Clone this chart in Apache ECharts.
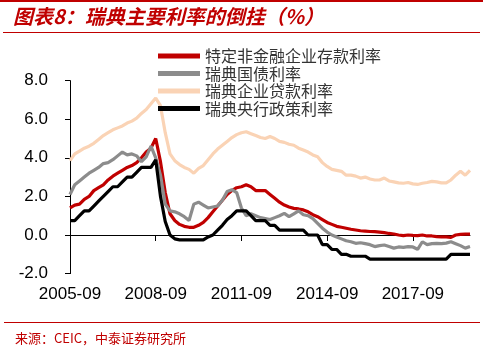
<!DOCTYPE html>
<html>
<head>
<meta charset="utf-8">
<script src="https://cdn.jsdelivr.net/npm/echarts@6/dist/echarts.min.js"></script>
<style>
  html, body { margin: 0; padding: 0; background: #fff; }
  #chart { width: 483px; height: 351px; }
</style>
</head>
<body>
<div id="chart"></div>
<script>
// 两个月一个点，从2005-09到2019-09
const months = []
for (let i = 0; i < 85; i++) {
  const m = 8 + i * 2
  const y = 2005 + Math.floor(m / 12)
  const mm = (m % 12) + 1
  months.push(y + '-' + (mm < 10 ? '0' + mm : mm))
}

const seriesNames = ['特定非金融企业存款利率', '瑞典国债利率', '瑞典企业贷款利率', '瑞典央行政策利率']

// 特定非金融企业存款利率
const depositRate = [
  1.4, 1.55, 1.6, 1.85, 2.0, 2.3, 2.45, 2.6, 2.85, 3.05,
  3.2, 3.35, 3.5, 3.6, 3.75, 4.0, 4.3, 4.5, 5.0, 3.8,
  2.2, 1.1, 0.75, 0.55, 0.45, 0.4, 0.4, 0.5, 0.65, 0.9,
  1.2, 1.5, 1.8, 2.1, 2.3, 2.45, 2.5, 2.6, 2.5, 2.3,
  2.3, 2.3, 2.1, 1.9, 1.7, 1.55, 1.45, 1.38, 1.35, 1.3,
  1.2, 1.05, 0.95, 0.8, 0.65, 0.55, 0.45, 0.4, 0.35, 0.3,
  0.26, 0.22, 0.2, 0.18, 0.17, 0.15, 0.12, 0.08, 0.05, 0.0,
  -0.03, 0.0, -0.02, -0.03, 0.0, -0.05, -0.05, -0.08, -0.1, -0.1,
  -0.12, 0.0, 0.03, 0.05, 0.05
]
// 瑞典国债利率
const bondYield = [
  2.1, 2.6, 2.8, 3.0, 3.2, 3.35, 3.5, 3.7, 3.75, 3.9,
  4.1, 4.3, 4.15, 4.2, 4.1, 3.8, 4.05, 4.6, 4.0, 3.1,
  1.6, 1.25, 1.2, 1.1, 0.95, 0.75, 1.6, 1.7, 1.55, 1.4,
  1.45, 1.5, 1.8, 2.25, 2.35, 2.2, 1.4, 1.0, 1.1, 1.0,
  0.9, 0.85, 0.8, 0.9, 1.0, 1.12, 0.95, 1.1, 1.25, 1.05,
  1.0, 0.85, 0.6, 0.35, 0.15, 0.0, -0.1, -0.2, -0.3, -0.35,
  -0.43, -0.4, -0.45, -0.5, -0.6, -0.55, -0.52, -0.6, -0.68, -0.62,
  -0.64, -0.6, -0.62, -0.74, -0.35, -0.5, -0.45, -0.43, -0.45, -0.42,
  -0.35, -0.45, -0.55, -0.68, -0.6
]
// 瑞典企业贷款利率
const loanRate = [
  3.85, 4.2, 4.35, 4.5, 4.6, 4.75, 4.95, 5.15, 5.3, 5.45,
  5.55, 5.65, 5.8, 5.9, 6.05, 6.3, 6.5, 6.8, 7.1, 6.7,
  5.3, 4.2, 3.85, 3.65, 3.5, 3.4, 3.2, 3.45, 3.6, 3.9,
  4.2, 4.45, 4.65, 4.85, 5.05, 5.2, 5.3, 5.35, 5.25, 5.15,
  5.05, 5.0, 5.1, 5.0, 4.85, 4.8, 4.7, 4.65, 4.5, 4.4,
  4.3, 4.15, 4.05, 3.75, 3.55, 3.4, 3.35, 3.3, 3.1, 3.1,
  3.05, 2.95, 3.0, 2.9, 2.85, 2.85, 2.95, 2.8, 2.75, 2.7,
  2.68, 2.72, 2.65, 2.62, 2.68, 2.72, 2.78, 2.75, 2.7, 2.7,
  2.85, 3.1, 3.3, 3.1, 3.35
]
// 瑞典央行政策利率
const policyRate = [
  0.75, 0.75, 1.0, 1.25, 1.25, 1.5, 1.75, 2.0, 2.25, 2.5,
  2.5, 2.75, 3.0, 3.0, 3.25, 3.5, 3.5, 3.5, 3.9, 2.0,
  0.7, 0.0, -0.2, -0.25, -0.25, -0.25, -0.25, -0.25, -0.25, -0.1,
  0.0, 0.25, 0.5, 0.8, 1.0, 1.25, 1.25, 1.25, 1.0, 0.75,
  0.75, 0.75, 0.5, 0.5, 0.25, 0.25, 0.25, 0.25, 0.25, 0.25,
  0.0, 0.0, 0.0, -0.5, -0.5, -0.75, -0.75, -1.0, -1.0, -1.1,
  -1.1, -1.1, -1.1, -1.25, -1.25, -1.25, -1.25, -1.25, -1.25, -1.25,
  -1.25, -1.25, -1.25, -1.25, -1.25, -1.25, -1.25, -1.25, -1.25, -1.25,
  -1.0, -1.0, -1.0, -1.0, -1.0
]
const colors = ['#C00000', '#8C8C8C', '#FAD3B5', '#000000']

const yMin = -2
const yMax = 8
const yStep = 2

const chart = echarts.init(document.getElementById('chart'))
const lineSeries = (name, data, color) => ({
  name: name,
  type: 'line',
  data: data,
  xAxisIndex: 0,
  showSymbol: false,
  symbol: 'none',
  lineStyle: { color: color, width: 3.2 },
  itemStyle: { color: color },
  animation: false
})

chart.setOption({
  animation: false,
  title: {
    text: '图表8：瑞典主要利率的倒挂（%）',
    left: 13,
    top: 6,
    padding: 0,
    textStyle: {
      color: '#C00000',
      fontStyle: 'italic',
      fontWeight: 'bold',
      fontSize: 20,
      fontFamily: 'Noto Sans CJK SC'
    }
  },
  legend: {
    orient: 'vertical',
    left: 158,
    top: 48,
    padding: 0,
    itemGap: 1.5,
    itemWidth: 42,
    itemHeight: 5,
    icon: 'rect',
    data: seriesNames,
    textStyle: { fontSize: 16, color: '#333', fontFamily: 'Noto Sans CJK SC' }
  },
  grid: { left: 70, right: 13, top: 80.6, bottom: 77.4 },
  xAxis: [
    {
      type: 'category',
      data: months,
      boundaryGap: false,
      axisLine: { onZero: true, lineStyle: { color: '#000', width: 1 } },
      axisTick: { interval: 17, length: 6, lineStyle: { color: '#000' } },
      axisLabel: { show: false },
      splitLine: { show: false }
    },
    {
      type: 'category',
      data: months,
      boundaryGap: false,
      position: 'bottom',
      axisLine: { show: false, onZero: false },
      axisTick: { show: false },
      axisLabel: {
        interval: 17,
        margin: 12,
        fontSize: 17,
        color: '#000',
        fontFamily: 'Liberation Sans'
      },
      splitLine: { show: false }
    }
  ],
  yAxis: {
    type: 'value',
    min: yMin,
    max: yMax,
    interval: yStep,
    axisLine: { show: true, lineStyle: { color: '#000', width: 1 } },
    axisTick: { show: true, length: 5, lineStyle: { color: '#000' } },
    axisLabel: {
      margin: 22,
      fontSize: 17,
      color: '#000',
      fontFamily: 'Liberation Sans',
      formatter: v => v.toFixed(1)
    },
    splitLine: { show: false }
  },
  series: [
    lineSeries(seriesNames[0], depositRate, colors[0]),
    lineSeries(seriesNames[1], bondYield, colors[1]),
    lineSeries(seriesNames[2], loanRate, colors[2]),
    lineSeries(seriesNames[3], policyRate, colors[3])
  ],
  graphic: [
    { type: 'rect', shape: { x: 0, y: 0, width: 483, height: 2 }, style: { fill: '#C00000' } },
    { type: 'line', shape: { x1: 3, y1: 32.5, x2: 480, y2: 32.5 }, style: { stroke: '#C00000', lineWidth: 1 } },
    { type: 'line', shape: { x1: 4, y1: 322.5, x2: 480, y2: 322.5 }, style: { stroke: '#C00000', lineWidth: 1 } },
    {
      type: 'text',
      left: 15,
      top: 332,
      style: {
        text: '来源：CEIC，中泰证券研究所',
        fill: '#C00000',
        fontSize: 13,
        fontFamily: 'Noto Sans CJK SC'
      }
    }
  ]
})
</script>
</body>
</html>
